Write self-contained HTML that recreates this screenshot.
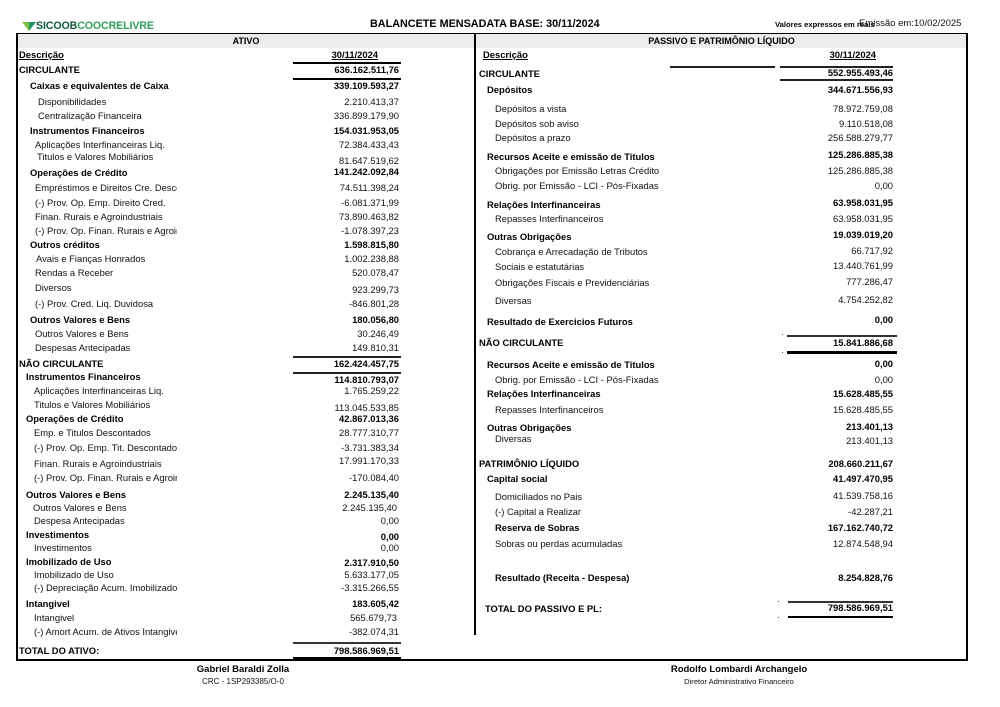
<!DOCTYPE html>
<html><head><meta charset="utf-8">
<style>
html,body{margin:0;padding:0}
body{width:1000px;height:707px;position:relative;overflow:hidden;background:#fff;font-family:"Liberation Sans",Arial,sans-serif;color:#111}
.t{position:absolute;font-size:9.4px;line-height:12px;white-space:nowrap}
.b{font-weight:bold;color:#000}
.u{text-decoration:underline}
.vl{right:601px;text-align:right}
.vr{right:107px;text-align:right}
.c{overflow:hidden}
.ln{position:absolute;background:#000}
</style></head><body>

<!-- Header -->
<svg style="position:absolute;left:22px;top:22px" width="16" height="10" viewBox="0 0 16 10">
<polygon points="0,0 7,0 7,9" fill="#7cc04a"/>
<polygon points="7,0 14,0 7,9" fill="#1f9a5c"/>
</svg>
<div class="t b" style="left:36px;top:20px;font-size:10.6px;line-height:13px;letter-spacing:-0.1px"><span style="color:#0f5a3c">SICOOB</span><span style="color:#2fa05a">COOCRELIVRE</span></div>
<div class="t b" style="left:370px;top:18px;font-size:10.8px;line-height:13px">BALANCETE MENSADATA BASE: 30/11/2024</div>
<div class="t b" style="left:775px;top:19px;font-size:7.6px;line-height:11px">Valores expressos em reais</div>
<div class="t" style="left:859px;top:18px;font-size:9.5px;line-height:12px;background:transparent">Emissão em:10/02/2025</div>

<!-- Box -->
<div style="position:absolute;left:17px;top:33px;width:950px;height:15px;background:#ececec"></div>
<div class="ln" style="left:17px;top:33px;width:951px;height:1px"></div>
<div class="ln" style="left:16px;top:33px;width:2px;height:628px"></div>
<div class="ln" style="left:966px;top:33px;width:2px;height:628px"></div>
<div class="ln" style="left:16px;top:659px;width:952px;height:2px"></div>
<div class="ln" style="left:474px;top:33px;width:2px;height:602px"></div>

<div class="t b" style="left:17px;width:458px;text-align:center;top:35px;font-size:9px">ATIVO</div>
<div class="t b" style="left:476px;width:491px;text-align:center;top:35px;font-size:9px">PASSIVO E PATRIMÔNIO LÍQUIDO</div>

<!-- LEFT -->
<div class="t b u" style="left:19px;top:49px">Descrição</div>
<div class="t b u" style="right:622px;top:49px">30/11/2024</div>
<div class="ln" style="left:293px;top:62px;width:108px;height:1.5px"></div>
<div class="t b" style="left:19px;top:64px">CIRCULANTE</div>
<div class="t b vl" style="top:64px">636.162.511,76</div>
<div class="ln" style="left:293px;top:78px;width:108px;height:1.5px"></div>
<div class="t b" style="left:30px;top:80px">Caixas e equivalentes de Caixa</div>
<div class="t b vl" style="top:80px">339.109.593,27</div>
<div class="t" style="left:38px;top:96px">Disponibilidades</div>
<div class="t vl" style="top:96px">2.210.413,37</div>
<div class="t" style="left:38px;top:110px">Centralização Financeira</div>
<div class="t vl" style="top:110px">336.899.179,90</div>
<div class="t b" style="left:30px;top:125px">Instrumentos Financeiros</div>
<div class="t b vl" style="top:125px">154.031.953,05</div>
<div class="t" style="left:35px;top:139px">Aplicações Interfinanceiras Liq.</div>
<div class="t vl" style="top:139px">72.384.433,43</div>
<div class="t" style="left:37px;top:151px">Titulos e Valores Mobiliários</div>
<div class="t vl" style="top:155px">81.647.519,62</div>
<div class="t b" style="left:30px;top:167px">Operações de Crédito</div>
<div class="t b vl" style="top:166px">141.242.092,84</div>
<div class="t c" style="left:35px;top:182px;width:142px">Empréstimos e Direitos Cre. Descontados</div>
<div class="t vl" style="top:182px">74.511.398,24</div>
<div class="t" style="left:35px;top:197px">(-) Prov. Op. Emp. Direito Cred.</div>
<div class="t vl" style="top:197px">-6.081.371,99</div>
<div class="t" style="left:35px;top:211px">Finan. Rurais e Agroindustriais</div>
<div class="t vl" style="top:211px">73.890.463,82</div>
<div class="t c" style="left:35px;top:225px;width:142px">(-) Prov. Op. Finan. Rurais e Agroindustriais</div>
<div class="t vl" style="top:225px">-1.078.397,23</div>
<div class="t b" style="left:30px;top:239px">Outros créditos</div>
<div class="t b vl" style="top:239px">1.598.815,80</div>
<div class="t" style="left:36px;top:253px">Avais e Fianças Honrados</div>
<div class="t vl" style="top:253px">1.002.238,88</div>
<div class="t" style="left:35px;top:267px">Rendas a Receber</div>
<div class="t vl" style="top:267px">520.078,47</div>
<div class="t" style="left:35px;top:282px">Diversos</div>
<div class="t vl" style="top:284px">923.299,73</div>
<div class="t" style="left:35px;top:298px">(-) Prov. Cred. Liq. Duvidosa</div>
<div class="t vl" style="top:298px">-846.801,28</div>
<div class="t b" style="left:30px;top:314px">Outros Valores e Bens</div>
<div class="t b vl" style="top:314px">180.056,80</div>
<div class="t" style="left:35px;top:328px">Outros Valores e Bens</div>
<div class="t vl" style="top:328px">30.246,49</div>
<div class="t" style="left:35px;top:342px">Despesas Antecipadas</div>
<div class="t vl" style="top:342px">149.810,31</div>
<div class="ln" style="left:293px;top:356px;width:108px;height:2px;background:#222"></div>
<div class="t b" style="left:19px;top:358px">NÃO CIRCULANTE</div>
<div class="t b vl" style="top:358px">162.424.457,75</div>
<div class="ln" style="left:293px;top:372px;width:108px;height:2px;background:#222"></div>
<div class="t b" style="left:26px;top:371px">Instrumentos Financeiros</div>
<div class="t b vl" style="top:374px">114.810.793,07</div>
<div class="t" style="left:34px;top:385px">Aplicações Interfinanceiras Liq.</div>
<div class="t vl" style="top:385px">1.765.259,22</div>
<div class="t" style="left:34px;top:399px">Titulos e Valores Mobiliários</div>
<div class="t vl" style="top:402px">113.045.533,85</div>
<div class="t b" style="left:26px;top:413px">Operações de Crédito</div>
<div class="t b vl" style="top:413px">42.867.013,36</div>
<div class="t" style="left:34px;top:427px">Emp. e Titulos Descontados</div>
<div class="t vl" style="top:427px">28.777.310,77</div>
<div class="t c" style="left:34px;top:442px;width:143px">(-) Prov. Op. Emp. Tit. Descontados</div>
<div class="t vl" style="top:442px">-3.731.383,34</div>
<div class="t" style="left:34px;top:458px">Finan. Rurais e Agroindustriais</div>
<div class="t vl" style="top:455px">17.991.170,33</div>
<div class="t c" style="left:34px;top:472px;width:143px">(-) Prov. Op. Finan. Rurais e Agroindustriais</div>
<div class="t vl" style="top:472px">-170.084,40</div>
<div class="t b" style="left:26px;top:489px">Outros Valores e Bens</div>
<div class="t b vl" style="top:489px">2.245.135,40</div>
<div class="t" style="left:33px;top:502px">Outros Valores e Bens</div>
<div class="t" style="right:603px;top:502px">2.245.135,40</div>
<div class="t" style="left:34px;top:515px">Despesa Antecipadas</div>
<div class="t vl" style="top:515px">0,00</div>
<div class="t b" style="left:26px;top:529px">Investimentos</div>
<div class="t b vl" style="top:531px">0,00</div>
<div class="t" style="left:34px;top:542px">Investimentos</div>
<div class="t vl" style="top:542px">0,00</div>
<div class="t b" style="left:26px;top:556px">Imobilizado de Uso</div>
<div class="t b vl" style="top:557px">2.317.910,50</div>
<div class="t" style="left:34px;top:569px">Imobilizado de Uso</div>
<div class="t vl" style="top:569px">5.633.177,05</div>
<div class="t c" style="left:34px;top:582px;width:143px">(-) Depreciação Acum. Imobilizado</div>
<div class="t vl" style="top:582px">-3.315.266,55</div>
<div class="t b" style="left:26px;top:598px">Intangivel</div>
<div class="t b vl" style="top:598px">183.605,42</div>
<div class="t" style="left:34px;top:612px">Intangivel</div>
<div class="t" style="right:603px;top:612px">565.679,73</div>
<div class="t c" style="left:34px;top:626px;width:143px">(-) Amort Acum. de Ativos Intangiveis</div>
<div class="t vl" style="top:626px">-382.074,31</div>
<div class="ln" style="left:293px;top:642px;width:108px;height:2px;background:#333"></div>
<div class="t b" style="left:19px;top:645px">TOTAL DO ATIVO:</div>
<div class="t b vl" style="top:645px">798.586.969,51</div>
<div class="ln" style="left:293px;top:657px;width:108px;height:2px"></div>

<!-- RIGHT -->
<div class="t b u" style="left:483px;top:49px">Descrição</div>
<div class="t b u" style="right:124px;top:49px">30/11/2024</div>
<div class="ln" style="left:670px;top:66px;width:105px;height:1.5px;background:#222"></div>
<div class="ln" style="left:780px;top:66px;width:113px;height:1.5px;background:#222"></div>
<div class="t b" style="left:479px;top:68px">CIRCULANTE</div>
<div class="t b vr" style="top:67px">552.955.493,46</div>
<div class="ln" style="left:780px;top:79px;width:113px;height:1.5px;background:#222"></div>
<div class="t b" style="left:487px;top:84px">Depósitos</div>
<div class="t b vr" style="top:84px">344.671.556,93</div>
<div class="t" style="left:495px;top:103px">Depósitos a vista</div>
<div class="t vr" style="top:103px">78.972.759,08</div>
<div class="t" style="left:495px;top:118px">Depósitos sob aviso</div>
<div class="t vr" style="top:118px">9.110.518,08</div>
<div class="t" style="left:495px;top:132px">Depósitos a prazo</div>
<div class="t vr" style="top:132px">256.588.279,77</div>
<div class="t b" style="left:487px;top:151px">Recursos Aceite e emissão de Titulos</div>
<div class="t b vr" style="top:149px">125.286.885,38</div>
<div class="t" style="left:495px;top:165px">Obrigações por Emissão Letras Crédito</div>
<div class="t vr" style="top:165px">125.286.885,38</div>
<div class="t" style="left:495px;top:180px">Obrig. por Emissão - LCI - Pós-Fixadas</div>
<div class="t vr" style="top:180px">0,00</div>
<div class="t b" style="left:487px;top:199px">Relações Interfinanceiras</div>
<div class="t b vr" style="top:197px">63.958.031,95</div>
<div class="t" style="left:495px;top:213px">Repasses Interfinanceiros</div>
<div class="t vr" style="top:213px">63.958.031,95</div>
<div class="t b" style="left:487px;top:231px">Outras Obrigações</div>
<div class="t b vr" style="top:229px">19.039.019,20</div>
<div class="t" style="left:495px;top:246px">Cobrança e Arrecadação de Tributos</div>
<div class="t vr" style="top:245px">66.717,92</div>
<div class="t" style="left:495px;top:261px">Sociais e estatutárias</div>
<div class="t vr" style="top:260px">13.440.761,99</div>
<div class="t" style="left:495px;top:277px">Obrigações Fiscais e Previdenciárias</div>
<div class="t vr" style="top:276px">777.286,47</div>
<div class="t" style="left:495px;top:295px">Diversas</div>
<div class="t vr" style="top:294px">4.754.252,82</div>
<div class="t b" style="left:487px;top:316px">Resultado de Exercicios Futuros</div>
<div class="t b vr" style="top:314px">0,00</div>
<div class="ln" style="left:782px;top:334px;width:1px;height:1px;background:#555"></div>
<div class="ln" style="left:787px;top:335px;width:110px;height:1.5px;background:#333"></div>
<div class="t b" style="left:479px;top:337px">NÃO CIRCULANTE</div>
<div class="t b vr" style="top:337px">15.841.886,68</div>
<div class="ln" style="left:782px;top:352px;width:1px;height:1px;background:#555"></div>
<div class="ln" style="left:787px;top:351px;width:110px;height:2.5px"></div>
<div class="t b" style="left:487px;top:359px">Recursos Aceite e emissão de Titulos</div>
<div class="t b vr" style="top:358px">0,00</div>
<div class="t" style="left:495px;top:374px">Obrig. por Emissão - LCI - Pós-Fixadas</div>
<div class="t vr" style="top:374px">0,00</div>
<div class="t b" style="left:487px;top:388px">Relações Interfinanceiras</div>
<div class="t b vr" style="top:388px">15.628.485,55</div>
<div class="t" style="left:495px;top:404px">Repasses Interfinanceiros</div>
<div class="t vr" style="top:404px">15.628.485,55</div>
<div class="t b" style="left:487px;top:422px">Outras Obrigações</div>
<div class="t b vr" style="top:421px">213.401,13</div>
<div class="t" style="left:495px;top:433px">Diversas</div>
<div class="t vr" style="top:435px">213.401,13</div>
<div class="t b" style="left:479px;top:458px">PATRIMÔNIO LÍQUIDO</div>
<div class="t b vr" style="top:458px">208.660.211,67</div>
<div class="t b" style="left:487px;top:473px">Capital social</div>
<div class="t b vr" style="top:473px">41.497.470,95</div>
<div class="t" style="left:495px;top:491px">Domiciliados no Pais</div>
<div class="t vr" style="top:490px">41.539.758,16</div>
<div class="t" style="left:495px;top:506px">(-) Capital a Realizar</div>
<div class="t vr" style="top:506px">-42.287,21</div>
<div class="t b" style="left:495px;top:522px">Reserva de Sobras</div>
<div class="t b vr" style="top:522px">167.162.740,72</div>
<div class="t" style="left:495px;top:538px">Sobras ou perdas acumuladas</div>
<div class="t vr" style="top:538px">12.874.548,94</div>
<div class="t b" style="left:495px;top:572px">Resultado (Receita - Despesa)</div>
<div class="t b vr" style="top:572px">8.254.828,76</div>
<div class="ln" style="left:778px;top:601px;width:1px;height:1px;background:#555"></div>
<div class="ln" style="left:788px;top:601px;width:105px;height:1.5px;background:#333"></div>
<div class="t b" style="left:485px;top:603px">TOTAL DO PASSIVO E PL:</div>
<div class="t b vr" style="top:602px">798.586.969,51</div>
<div class="ln" style="left:778px;top:617px;width:1px;height:1px;background:#555"></div>
<div class="ln" style="left:788px;top:616px;width:105px;height:2px"></div>

<!-- Footer -->
<div class="t b" style="left:143px;width:200px;text-align:center;top:664px;font-size:9.5px">Gabriel Baraldi Zolla</div>
<div class="t" style="left:143px;width:200px;text-align:center;top:676px;font-size:8px">CRC - 1SP293385/O-0</div>
<div class="t b" style="left:639px;width:200px;text-align:center;top:664px;font-size:9.5px">Rodolfo Lombardi Archangelo</div>
<div class="t" style="left:639px;width:200px;text-align:center;top:676px;font-size:7.6px">Diretor Administrativo Financeiro</div>

</body></html>
